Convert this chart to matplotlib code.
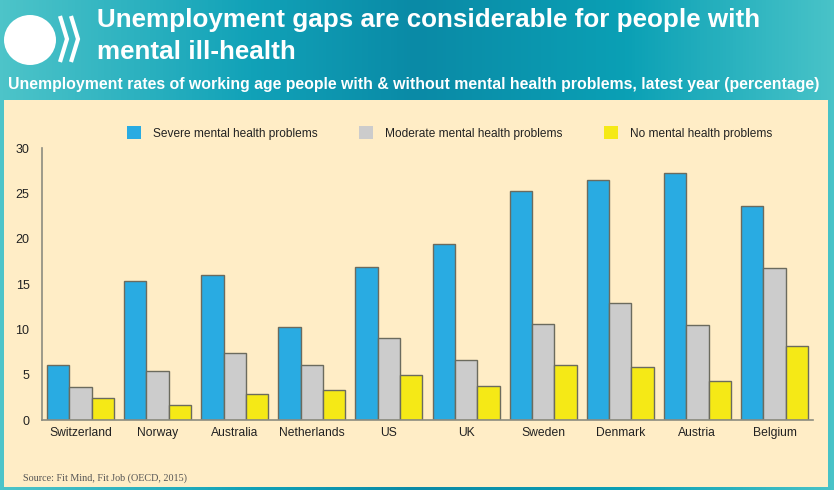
import numpy as np
import matplotlib.pyplot as plt
from matplotlib.patches import Rectangle, Ellipse
from matplotlib.colors import LinearSegmentedColormap

countries = ['Switzerland', 'Norway', 'Australia', 'Netherlands', 'US',
             'UK', 'Sweden', 'Denmark', 'Austria', 'Belgium']
severe = [6.1, 15.3, 16.0, 10.3, 16.9, 19.4, 25.3, 26.5, 27.2, 23.6]
moderate = [3.6, 5.4, 7.4, 6.1, 9.0, 6.6, 10.6, 12.9, 10.5, 16.8]
no_problems = [2.4, 1.7, 2.9, 3.3, 5.0, 3.7, 6.1, 5.8, 4.3, 8.2]
series_names = ['Severe mental health problems', 'Moderate mental health problems',
                'No mental health problems']
colors = ['#29abe2', '#cccccc', '#f5e916']
yticks = [0, 5, 10, 15, 20, 25, 30]

font = 'Liberation Sans'
W, H = 834, 490

fig = plt.figure(figsize=(8.34, 4.9), dpi=100)

# teal gradient background
bg = fig.add_axes([0, 0, 1, 1])
grad = np.linspace(0, 1, 256)
cm = LinearSegmentedColormap.from_list(
    'teal', [(0, '#4dc4c9'), (0.3, '#11a2b8'), (0.5, '#0a8aa6'),
             (0.75, '#0aa0b5'), (1, '#48c3c8')])
bg.imshow(grad[None, :], aspect='auto', cmap=cm, extent=[0, 1, 0, 1])
bg.set_xlim(0, 1)
bg.set_ylim(0, 1)
bg.axis('off')

def px(x, y):
    return x / W, 1 - y / H

# cream panel
bg.add_patch(Rectangle(px(4, 487), 824 / W, 387 / H, facecolor='#ffedc6', edgecolor='none'))

# logo: globe + chevrons
bg.add_patch(Ellipse(px(30, 40), 52 / W, 50 / H, facecolor='white', edgecolor='none'))
for x0 in [60, 71]:
    pts = [px(x0, 16), px(x0 + 7, 39), px(x0, 62)]
    bg.plot([p[0] for p in pts], [p[1] for p in pts], color='white', lw=3.0,
            solid_capstyle='butt', solid_joinstyle='miter')

fig.text(97 / W, 1 - 27 / H, 'Unemployment gaps are considerable for people with',
         fontsize=18.7, fontweight='bold', color='white', family=font, va='baseline')
fig.text(97 / W, 1 - 59 / H, 'mental ill-health',
         fontsize=18.7, fontweight='bold', color='white', family=font, va='baseline')
fig.text(8 / W, 1 - 89 / H,
         'Unemployment rates of working age people with & without mental health problems, latest year (percentage)',
         fontsize=11.4, fontweight='bold', color='white', family=font, va='baseline')

ax = fig.add_axes([42 / W, 70 / H, 771 / W, 272 / H])
ax.set_facecolor('none')
x = np.arange(len(countries))
w = 0.29
for i, (vals, c, name) in enumerate(zip([severe, moderate, no_problems], colors, series_names)):
    ax.bar(x + (i - 1) * w, vals, width=w, color=c, edgecolor='#6b6b5e', linewidth=1,
           label=name)

ax.set_xlim(-0.5, 9.5)
ax.set_ylim(0, 30)
ax.set_yticks(yticks)
ax.set_xticks(x)
ax.set_xticklabels(countries, family=font, fontsize=8.7, color='#222222')
ax.set_yticklabels([str(t) for t in yticks], family=font, fontsize=9, color='#222222')
ax.tick_params(length=0)
ax.tick_params(axis='x', pad=5)
ax.tick_params(axis='y', pad=9)
for s in ['top', 'right']:
    ax.spines[s].set_visible(False)
for s in ['left', 'bottom']:
    ax.spines[s].set_color('#8c8c80')
    ax.spines[s].set_linewidth(1.2)

leg = ax.legend(loc='center left', bbox_to_anchor=(85 / 771, 1 + 15 / 272), ncol=3,
                frameon=False, prop={'family': font, 'size': 8.6},
                handlelength=1.2, handleheight=1.2, handletextpad=0.95,
                columnspacing=3.5, borderaxespad=0, borderpad=0)
for h in leg.legend_handles:
    h.set_edgecolor('none')
for t in leg.get_texts():
    t.set_color('#222222')

fig.text(23 / W, 1 - 478 / H, 'Source: Fit Mind, Fit Job (OECD, 2015)', fontsize=7.3,
         color='#555555', family='Liberation Serif', va='center')

fig.savefig('out.png', dpi=100)
